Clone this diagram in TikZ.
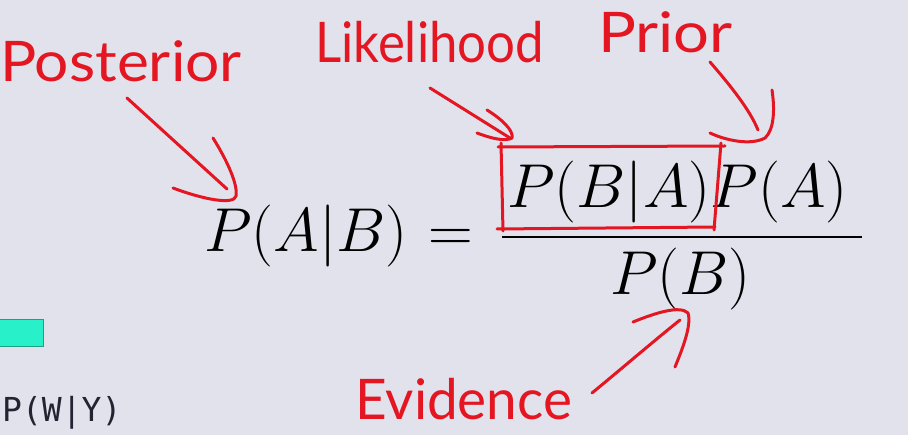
\RequirePackage{fix-cm}
\documentclass[tikz,border=0pt]{standalone}
\usepackage{fontspec}
\newfontfamily\hand{Lato}
\newfontfamily\mono{DejaVu Sans Mono}
\definecolor{bg}{RGB}{226,226,236}
\definecolor{mk}{RGB}{228,22,34}
\definecolor{codetxt}{RGB}{35,35,50}
\definecolor{tealfill}{RGB}{40,240,200}
\definecolor{tealedge}{RGB}{30,160,130}
\begin{document}
\begin{tikzpicture}[x=1pt,y=-1pt,
  lbl/.style={font=\hand\fontsize{56}{56}\selectfont, text=mk, inner sep=0, anchor=base west},
  mth/.style={font=\fontsize{62}{72}\selectfont, inner sep=0, anchor=base west},
  codefont/.style={font=\mono\fontsize{33}{33}\selectfont, anchor=base west, inner sep=0, text=codetxt},
  ink/.style={draw=mk, line width=3pt, line cap=round, line join=round}]
\useasboundingbox (0,0) rectangle (908,435);
\fill[bg] (0,0) rectangle (908,435);
\clip (0,0) rectangle (908,435);
% formula
\node[mth] (lhs) at (204,252) {$P(A|B)$};
\node[mth] (eqs) at (428,252) {$=$};
\node[mth] (num) at (507,208) {$P(B|A)P(A)$};
\node[mth] (den) at (610,295) {$P(B)$};
\coordinate (barL) at (502,237);
\coordinate (barR) at (862,237);
\draw[line width=2.6pt] (barL) -- (barR);
% labels
\node[lbl, xscale=1.08] (post) at (0,82) {Posterior};
\node[lbl, xscale=0.91] (like) at (315,63) {Likelihood};
\node[lbl, xscale=1.13] (prior) at (598,53) {Prior};
\node[lbl, xscale=0.98] (evid) at (355,420) {Evidence};
% box round likelihood term
\draw[ink] (498,147) -- (725,146);
\draw[ink] (501,143) -- (503,231);
\draw[ink] (497,229) -- (715,227);
\draw[ink] (721,143) -- (714,230);
% arrows
\draw[ink] (127,98) -- (227,189);
\draw[ink] (213,138) .. controls (228,162) and (238,185) .. (236,196) .. controls (234,205) and (205,200) .. (173,188);
\draw[ink] (430,88) -- (510,138);
\draw[ink] (487,110) .. controls (500,118) and (514,130) .. (512,138) .. controls (505,142) and (490,138) .. (477,133);
\draw[ink] (710,62) .. controls (730,85) and (750,110) .. (758,130);
\draw[ink] (772,90) .. controls (775,110) and (774,130) .. (765,138) .. controls (750,146) and (725,140) .. (710,133);
\draw[ink] (592,393) .. controls (620,370) and (655,340) .. (680,320);
\draw[ink] (633,322) .. controls (655,313) and (680,305) .. (688,313) .. controls (692,325) and (682,350) .. (675,367);
% left edge remnants
\draw[fill=tealfill, draw=tealedge, line width=0.8pt] (-5,319) rectangle (43,346);
\node[codefont] (code) at (2,422) {P(W|Y)};
\end{tikzpicture}
\end{document}
